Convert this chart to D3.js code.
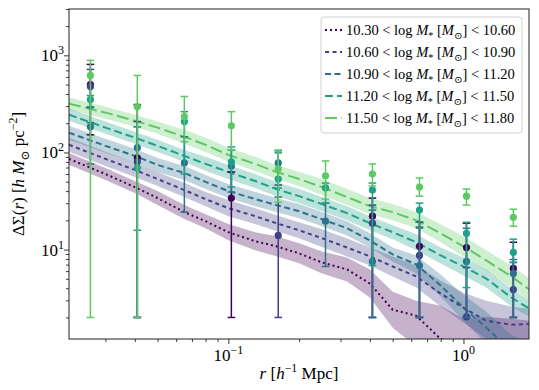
<!DOCTYPE html>
<html><head><meta charset="utf-8">
<script src="https://cdn.jsdelivr.net/npm/d3@7"></script>
<style>
body{margin:0;background:#fff}
svg{display:block}
</style>
</head><body>
<svg id="c" width="539" height="390" style="font-family:'Liberation Serif','DejaVu Serif',serif"></svg>
<script>
// ---------------- data ----------------
const binLabels = [["10.30","10.60"],["10.60","10.90"],["10.90","11.20"],["11.20","11.50"],["11.50","11.80"]];
const rData  = [0.0259, 0.041, 0.065, 0.103, 0.163, 0.259, 0.41, 0.65, 1.03, 1.63];
const rModel = [0.021,0.03,0.04,0.05,0.065,0.08,0.1,0.13,0.16,0.2,0.25,0.32,0.4,0.5,0.63,0.8,1.0,1.25,1.6,1.91];

// model curves (median) and bands (lower / upper)
const model1 = [85.9,60.0,44.0,33.9,24.3,19.6,15.1,12.2,10.8,9.14,7.37,6.24,4.47,2.40,2.08,1.20,1.0,0.9,0.8,0.8];
const hi1    = [99.0,69.2,50.7,40.0,28.7,23.1,18.3,15.1,13.7,11.6,9.57,8.29,6.23,3.68,2.98,2.64,1.94,2.03,1.94,1.85];
const lo1    = [74.5,52.0,38.2,28.7,20.6,16.6,12.5,9.85,8.52,7.21,5.68,4.70,3.21,1.57,1.0,0.8,0.8,0.8,0.8,0.8];

const model2 = [119.9,85.9,66.1,53.3,41.0,33.1,26.7,22.1,18.7,15.8,13.1,10.5,8.51,6.70,5.28,3.52,2.52,1.85,1.68,1.72];
const hi2    = [141.6,101.4,78.1,62.9,48.4,39.1,32.3,26.7,22.6,19.1,16.2,13.0,10.5,8.50,6.85,4.79,3.60,2.98,2.58,2.46];
const lo2    = [101.5,72.7,56.0,45.1,34.7,28.0,22.1,18.3,15.5,13.1,10.6,8.48,6.87,5.28,4.07,2.59,1.77,1.20,1.0,1.0];

const model3 = [159.6,117,92.2,74.4,61.5,49.7,40.0,33.1,28.7,24.8,20.5,16.6,12.4,8.91,7.03,4.26,2.52,1.57,0.905,0.78];
const hi3    = [188,138,109,87.9,72.6,58.6,47.3,39.1,33.9,29.4,24.3,19.6,14.7,10.5,8.71,5.53,3.43,2.29,1.32,1.09];
const lo3    = [135,99.1,78.0,63.0,52.0,42.0,33.9,28.0,24.3,21.0,17.4,14.0,10.5,7.55,5.67,3.28,1.85,1.07,0.6,0.5];

const model4 = [245,180,142,117,92.2,76.2,63.0,50.8,42.0,35.5,29.4,23.7,18.7,15.1,11.9,8.71,6.70,5.03,3.20,2.46];
const hi4    = [283,208,163,135,106,90.1,74.4,60.0,49.7,42.0,34.7,28.0,22.1,17.8,14.4,10.5,8.30,6.24,3.96,2.98];
const lo4    = [212,156,123,101,80.0,64.6,53.3,43.1,35.5,30.1,24.8,20.0,15.8,12.8,9.82,7.19,5.41,4.06,2.58,2.03];

const model5 = [318,257,212,180,145,119.9,94.4,76.2,63.0,53.3,44.0,34.7,28.0,24.3,20.0,14.7,10.8,7.73,5.28,3.87];
const hi5    = [367,296,245,208,171,142,111.6,90.1,74.4,63.0,53.3,42.0,33.9,29.4,24.3,18.2,13.7,9.82,6.85,5.03];
const lo5    = [276,223,184,156,123,101,80.0,64.6,53.3,45.1,36.4,28.7,23.1,20.0,16.6,11.9,8.51,6.10,4.06,2.98];

// measurements: value, upper end of error bar, lower end of error bar (null = not shown)
const obs1   = [501,87.9,null,33.9,null,null,22.1,10.8,10.5,6.39];
const obsHi1 = [807,311,null,63.0,null,null,33.9,19.1,18.7,11.9];
const obsLo1 = [152,2,null,2,null,null,2,2,2,2];

const obs2   = [477,80.0,null,null,14.0,null,18.7,8.71,2.03,3.87];
const obsHi2 = [716,208,null,null,46.2,null,28.7,17.0,6.53,7.37];
const obsLo2 = [290,2,null,null,2,null,2,2,2,2];

const obs3   = [184,112,78.0,72.6,78.0,19.6,7.55,6.85,7.55,5.67];
const obsHi3 = [203,184,145,106,104,30.1,25.5,19.1,16.6,7.9];
const obsLo3 = [76.2,2,24.3,39.1,34.7,6.70,2,2,2,2];

const obs4   = [350,69.3,208,80.0,53.3,43.1,41.0,25.5,14.7,9.35];
const obsHi4 = [385,184,263,114,99.1,48.4,48.4,30.1,19.1,12.8];
const obsLo4 = [296,15.8,60.0,44.0,43.1,30.1,6.85,16.6,4.06,7.37];

const obs5   = [621,296,234,188,67.6,57.3,60.0,44.0,35.5,21.5];
const obsHi5 = [888,621,377,263,106,81.8,76.2,54.6,42.0,26.0];
const obsLo5 = [2,2,129,106,30.8,33.1,45.1,35.5,28.7,17.4];

const xTickMajor = [0.1, 1];
const xTickExp = ["\u22121", "0"];
const yTickMajor = [10, 100, 1000];
const yTickExp = ["1", "2", "3"];

// ---------------- styles ----------------
const FONT = "'Liberation Serif','DejaVu Serif',serif";
const colors = [0, 0.1875, 0.375, 0.5625, 0.75].map(t => d3.interpolateViridis(t));
const dashes = ["2,3", "4,3.5", "6,3.5", "8,4", "12,4.5"];

const series = [
  {m: model1, hi: hi1, lo: lo1, v: obs1, eh: obsHi1, el: obsLo1},
  {m: model2, hi: hi2, lo: lo2, v: obs2, eh: obsHi2, el: obsLo2},
  {m: model3, hi: hi3, lo: lo3, v: obs3, eh: obsHi3, el: obsLo3},
  {m: model4, hi: hi4, lo: lo4, v: obs4, eh: obsHi4, el: obsLo4},
  {m: model5, hi: hi5, lo: lo5, v: obs5, eh: obsHi5, el: obsLo5},
];

// ---------------- drawing ----------------
const svg = d3.select("#c");
const L = 69, R = 529, T = 9, B = 339;
const x = d3.scaleLog().domain([0.021, 1.9]).range([L, R]);
const y = d3.scaleLog().domain([1.2, 3000]).range([B, T]);

svg.append("rect").attr("width", 539).attr("height", 390).attr("fill", "#fff");
svg.append("defs").append("clipPath").attr("id", "clip")
  .append("rect").attr("x", L).attr("y", T).attr("width", R - L).attr("height", B - T);

const plot = svg.append("g").attr("clip-path", "url(#clip)");

// bands
series.forEach((s, i) => {
  const area = d3.area()
    .x((d, j) => x(rModel[j]))
    .y0((d, j) => y(s.lo[j]))
    .y1((d, j) => y(s.hi[j]));
  plot.append("path").datum(rModel).attr("d", area)
    .attr("fill", colors[i]).attr("fill-opacity", 0.3).attr("stroke", "none");
});
// model lines
series.forEach((s, i) => {
  const line = d3.line().x((d, j) => x(rModel[j])).y((d, j) => y(s.m[j]));
  plot.append("path").datum(rModel).attr("d", line)
    .attr("fill", "none").attr("stroke", colors[i]).attr("stroke-width", 2)
    .attr("stroke-dasharray", dashes[i]);
});
// error bars + points
series.forEach((s, i) => {
  const g = plot.append("g").attr("stroke", colors[i]).attr("fill", colors[i]);
  rData.forEach((r, j) => {
    if (s.v[j] == null) return;
    const cx = x(r);
    g.append("line").attr("x1", cx).attr("x2", cx).attr("y1", y(s.el[j])).attr("y2", y(s.eh[j]))
      .attr("stroke-width", 1.5);
    [s.el[j], s.eh[j]].forEach(e => {
      g.append("line").attr("x1", cx - 3.8).attr("x2", cx + 3.8).attr("y1", y(e)).attr("y2", y(e))
        .attr("stroke-width", 1.5);
    });
    g.append("circle").attr("cx", cx).attr("cy", y(s.v[j])).attr("r", 3.6).attr("stroke", "none");
  });
});

// frame
svg.append("rect").attr("x", L).attr("y", T).attr("width", R - L).attr("height", B - T)
  .attr("fill", "none").attr("stroke", "#222").attr("stroke-width", 1);

// axes ticks
function minorTicks(scale) {
  return scale.ticks(30).filter(v => Math.abs(Math.log10(v) - Math.round(Math.log10(v))) > 1e-6);
}
const xAxisMaj = d3.axisBottom(x).tickValues(xTickMajor).tickSize(5).tickFormat("");
const xAxisMin = d3.axisBottom(x).tickValues(minorTicks(x)).tickSize(3).tickFormat("");
const yAxisMaj = d3.axisLeft(y).tickValues(yTickMajor).tickSize(5).tickFormat("");
const yAxisMin = d3.axisLeft(y).tickValues(minorTicks(y)).tickSize(3).tickFormat("");
[xAxisMaj, xAxisMin].forEach(a => {
  const g = svg.append("g").attr("transform", `translate(0,${B})`).call(a);
  g.select(".domain").remove();
  g.selectAll("line").attr("stroke", "#222").attr("stroke-width", 0.9);
});
[yAxisMaj, yAxisMin].forEach(a => {
  const g = svg.append("g").attr("transform", `translate(${L},0)`).call(a);
  g.select(".domain").remove();
  g.selectAll("line").attr("stroke", "#222").attr("stroke-width", 0.9);
});

function txt(sel) { return sel.append("text").style("font-family", FONT).attr("fill", "#000"); }

// tick labels
const tfs = 17;
xTickMajor.forEach((v, k) => {
  const t = txt(svg).attr("x", x(v)).attr("y", 361).attr("text-anchor", "middle").attr("font-size", tfs);
  t.append("tspan").text("10");
  t.append("tspan").attr("dy", -7).attr("font-size", 12).text(xTickExp[k]);
});
yTickMajor.forEach((v, k) => {
  const t = txt(svg).attr("x", 64).attr("y", y(v) + 6).attr("text-anchor", "end").attr("font-size", tfs);
  t.append("tspan").text("10");
  t.append("tspan").attr("dy", -7).attr("font-size", 12).text(yTickExp[k]);
});

// rich text helper
function rich(t, parts, fs) {
  let shift = 0;
  parts.forEach(p => {
    const ts = t.append("tspan").text(p.t);
    let target = 0;
    if (p.s === "sub") { target = fs * 0.28; ts.attr("font-size", fs * 0.7); }
    if (p.s === "sup") { target = -fs * 0.42; ts.attr("font-size", fs * 0.7); }
    if (target !== shift) { ts.attr("dy", target - shift); shift = target; }
    if (p.i) ts.attr("font-style", "italic");
  });
}

// axis labels
const xl = txt(svg).attr("x", 299).attr("y", 379).attr("text-anchor", "middle").attr("font-size", 17);
rich(xl, [{t: "r", i: 1}, {t: " ["}, {t: "h", i: 1}, {t: "\u22121", s: "sup"}, {t: " Mpc]"}], 17);

const yl = txt(svg).attr("transform", "translate(24,174) rotate(-90)").attr("text-anchor", "middle").attr("font-size", 17);
rich(yl, [{t: "\u0394\u03A3("}, {t: "r", i: 1}, {t: ") ["}, {t: "h", i: 1}, {t: " "}, {t: "M", i: 1},
  {t: "\u2299", s: "sub"}, {t: " pc"}, {t: "\u22122", s: "sup"}, {t: "]"}], 17);

// legend
const lg = svg.append("g");
lg.append("rect").attr("x", 321).attr("y", 17).attr("width", 201).attr("height", 116).attr("rx", 3)
  .attr("fill", "#fff").attr("fill-opacity", 0.8).attr("stroke", "#d0d0d0").attr("stroke-width", 1);
binLabels.forEach((b, i) => {
  const yy = 30 + i * 22;
  lg.append("line").attr("x1", 325).attr("x2", 342).attr("y1", yy).attr("y2", yy)
    .attr("stroke", colors[i]).attr("stroke-width", 2).attr("stroke-dasharray", dashes[i]);
  const t = txt(lg).attr("x", 346).attr("y", yy + 5).attr("font-size", 14.5);
  rich(t, [{t: b[0] + " < log "}, {t: "M", i: 1}, {t: "*", s: "sub"}, {t: " ["}, {t: "M", i: 1},
    {t: "\u2299", s: "sub"}, {t: "] < " + b[1]}], 14.5);
});
</script>
</body></html>
